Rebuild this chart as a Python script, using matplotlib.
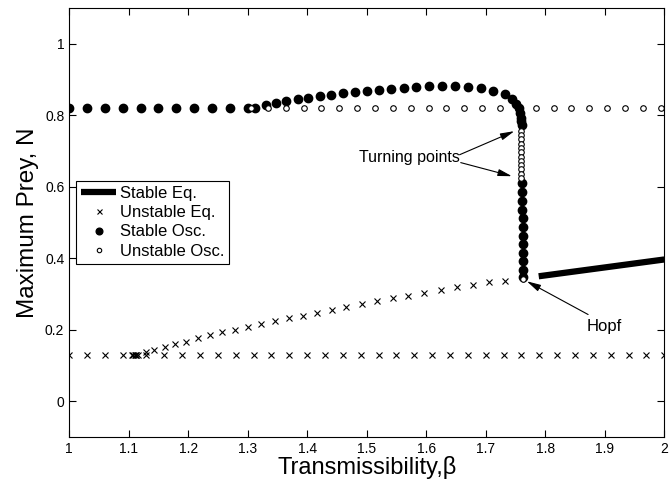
import numpy as np
import matplotlib.pyplot as plt
from matplotlib.ticker import FuncFormatter

plt.rcParams['font.family'] = ['Liberation Sans', 'DejaVu Sans']

# Unstable equilibria (x markers): flat branch at N = 0.13 and rising branch
ueq_flat_x = [1.0, 1.03, 1.06, 1.09, 1.105, 1.108, 1.11, 1.112, 1.115, 1.13, 1.16, 1.19,
              1.22, 1.25, 1.28, 1.31, 1.34, 1.37, 1.40, 1.43, 1.46, 1.49, 1.52, 1.55,
              1.58, 1.61, 1.64, 1.67, 1.70, 1.73, 1.76, 1.79, 1.82, 1.85, 1.88, 1.91,
              1.94, 1.97, 2.0]
ueq_flat_n = 0.13
ueq_rise_x = [1.112, 1.129, 1.143, 1.161, 1.178, 1.197, 1.216, 1.236, 1.257, 1.278, 1.300,
              1.323, 1.346, 1.369, 1.393, 1.417, 1.441, 1.466, 1.492, 1.518, 1.544, 1.570,
              1.597, 1.624, 1.651, 1.678, 1.706, 1.733]
ueq_rise_y = [0.129, 0.138, 0.145, 0.152, 0.160, 0.167, 0.176, 0.185, 0.193, 0.201, 0.209,
              0.216, 0.225, 0.232, 0.240, 0.248, 0.257, 0.265, 0.273, 0.280, 0.288, 0.296,
              0.304, 0.311, 0.319, 0.326, 0.333, 0.338]

# Stable equilibrium (thick line)
seq_x = [1.789, 2.0]
seq_y = [0.350, 0.397]

# Stable oscillations (filled circles)
sosc_x = [1.0, 1.03, 1.06, 1.09, 1.12, 1.15, 1.18, 1.21, 1.24, 1.27, 1.30,
          1.313, 1.331, 1.348, 1.365, 1.384, 1.402, 1.421, 1.440, 1.460, 1.480, 1.500,
          1.521, 1.541, 1.562, 1.583, 1.605, 1.627, 1.649, 1.671, 1.692, 1.713, 1.732,
          1.744, 1.751, 1.756, 1.758, 1.759, 1.760, 1.761,
          1.761, 1.761, 1.761, 1.761, 1.762, 1.762, 1.762, 1.762, 1.762, 1.762, 1.762, 1.762]
sosc_y = [0.82, 0.82, 0.82, 0.82, 0.82, 0.82, 0.82, 0.82, 0.82, 0.82, 0.82,
          0.822, 0.828, 0.835, 0.841, 0.846, 0.850, 0.853, 0.857, 0.862, 0.866, 0.868,
          0.871, 0.874, 0.877, 0.879, 0.881, 0.881, 0.881, 0.879, 0.876, 0.869, 0.859,
          0.846, 0.832, 0.820, 0.807, 0.794, 0.785, 0.773,
          0.610, 0.586, 0.561, 0.536, 0.512, 0.487, 0.463, 0.439, 0.415, 0.392, 0.368, 0.349]

# Unstable oscillations (open circles)
uosc_x = [1.305, 1.335, 1.364, 1.394, 1.424, 1.454, 1.484, 1.514, 1.544, 1.574, 1.604,
          1.634, 1.664, 1.694, 1.724, 1.784, 1.814, 1.844, 1.874, 1.904, 1.934, 1.964, 1.994,
          1.760, 1.760, 1.760, 1.760, 1.760, 1.760, 1.760, 1.760, 1.760, 1.760, 1.760, 1.760,
          1.762]
uosc_y = [0.82, 0.82, 0.82, 0.82, 0.82, 0.82, 0.82, 0.82, 0.82, 0.82, 0.82,
          0.82, 0.82, 0.82, 0.82, 0.82, 0.82, 0.82, 0.82, 0.82, 0.82, 0.82, 0.82,
          0.757, 0.745, 0.733, 0.721, 0.709, 0.697, 0.685, 0.673, 0.661, 0.649, 0.637, 0.625,
          0.341]

fig = plt.figure(figsize=(6.71, 4.83), dpi=100)
ax = fig.add_axes([0.103, 0.095, 0.887, 0.888])

ax.plot(seq_x, seq_y, '-', color='k', lw=4.5, solid_capstyle='butt', label='Stable Eq.')
ax.plot(ueq_flat_x, np.full(len(ueq_flat_x), ueq_flat_n), 'x', color='k', ms=4.5, mew=0.8,
        label='Unstable Eq.')
ax.plot(ueq_rise_x, ueq_rise_y, 'x', color='k', ms=4.5, mew=0.8)
ax.plot(sosc_x, sosc_y, 'o', color='k', ms=6, label='Stable Osc.')
ax.plot(uosc_x, uosc_y, 'o', mfc='white', mec='k', ms=4, mew=0.8, label='Unstable Osc.')

arrow = dict(arrowstyle='-|>,head_length=0.6,head_width=0.15', color='k', lw=0.8,
             mutation_scale=14, shrinkA=0, shrinkB=0)
ax.text(1.657, 0.682, 'Turning points', ha='right', va='center', fontsize=11.5)
ax.annotate('', xy=(1.748, 0.756), xytext=(1.656, 0.690), arrowprops=arrow)
ax.annotate('', xy=(1.744, 0.630), xytext=(1.658, 0.668), arrowprops=arrow)
ax.text(1.899, 0.209, 'Hopf', ha='center', va='center', fontsize=12)
ax.annotate('', xy=(1.769, 0.336), xytext=(1.872, 0.243), arrowprops=arrow)

ax.set_xlim(1, 2)
ax.set_ylim(-0.1, 1.1)
ax.set_xticks(np.arange(1, 2.01, 0.1))
ax.set_yticks([0, 0.2, 0.4, 0.6, 0.8, 1.0])
ax.xaxis.set_major_formatter(FuncFormatter(lambda v, p: ('%g' % round(v, 2))))
ax.yaxis.set_major_formatter(FuncFormatter(lambda v, p: ('%g' % round(v, 2))))
ax.tick_params(direction='in', length=5, width=0.8, top=True, right=True, labelsize=10)
for s in ax.spines.values():
    s.set_linewidth(0.8)

ax.set_xlabel('Transmissibility,β', fontsize=17, labelpad=0)
ax.set_ylabel('Maximum Prey, N', fontsize=17.5, labelpad=4)

leg = ax.legend(loc='upper left', bbox_to_anchor=(0.012, 0.597), borderaxespad=0,
                fontsize=12, fancybox=False, edgecolor='k', framealpha=1,
                handlelength=2.1, handletextpad=0.2, labelspacing=0.25, borderpad=0.3,
                markerscale=0.8)
leg.get_frame().set_linewidth(0.8)

fig.savefig('out.png', dpi=100)
